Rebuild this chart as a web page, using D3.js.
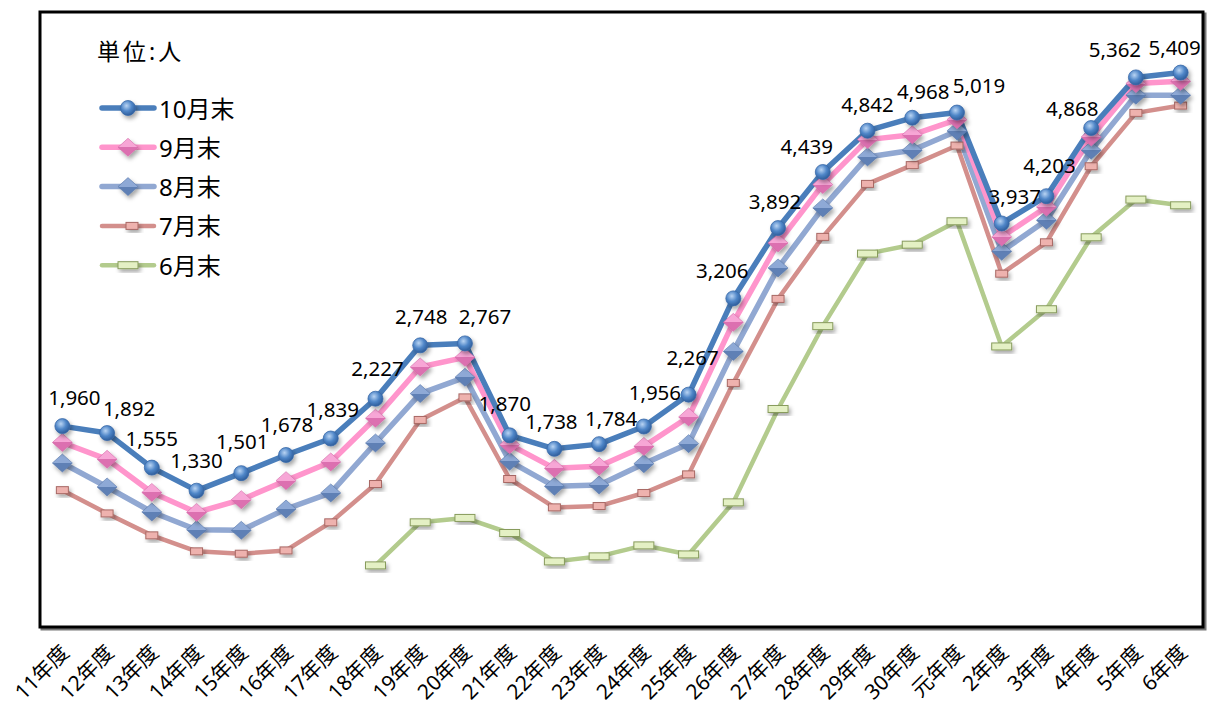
<!DOCTYPE html>
<html>
<head>
<meta charset="utf-8">
<script src="https://cdn.jsdelivr.net/npm/d3@7"></script>
<style>
  body { margin: 0; background: #fff; }
  svg { display: block; font-family: "Noto Sans", "Noto Sans CJK JP", sans-serif; }
</style>
</head>
<body>
<svg id="chart" width="1207" height="711"></svg>
<script>
// 年度ラベル
const years = ["11年度","12年度","13年度","14年度","15年度","16年度","17年度","18年度","19年度","20年度",
               "21年度","22年度","23年度","24年度","25年度","26年度","27年度","28年度","29年度","30年度",
               "元年度","2年度","3年度","4年度","5年度","6年度"];

const oct = [1960,1892,1555,1330,1501,1678,1839,2227,2748,2767,1870,1738,1784,1956,2267,3206,3892,4439,4842,4968,5019,3937,4203,4868,5362,5409];
const sep = [1800,1636,1313,1118,1242,1428,1610,2037,2537,2631,1779,1548,1568,1762,2049,2972,3747,4316,4755,4802,4950,3806,4098,4781,5302,5324];
const aug = [1600,1366,1122,949,943,1151,1308,1795,2277,2436,1616,1372,1385,1593,1789,2689,3503,4089,4586,4651,4840,3665,3968,4651,5188,5188];
const jul = [1335,1108,894,738,715,747,1021,1395,2020,2240,1444,1167,1180,1307,1489,2381,3201,3806,4323,4506,4697,3447,3753,4495,5016,5087];
const jun = [null,null,null,null,null,null,null,601,1021,1064,917,640,689,796,708,1216,2127,2935,3643,3730,3958,2737,3100,3802,4170,4114];

const seriesNames = ["10月末","9月末","8月末","7月末","6月末"];
const unitLabel = "単位:人";

// 10月末ラベルの手動位置調整 [dx, dy]（点からのずれ）
const labelNudge = [[12,-29],[22,-25],[0,-30],[0,-31],[1,-32],[1,-31],[2,-30],[2,-31],[1,-29],[20,-27],
                    [-5,-32],[-3,-28],[12,-26],[11,-35],[4,-38],[-11,-28],[-3,-27],[-16,-26],[0,-27],[11,-27],
                    [22,-28],[13,-27],[3,-31],[-19,-20],[-21,-28],[-6,-26]];

const svg = d3.select('#chart');
const plot = {left: 40, top: 12, right: 1203, bottom: 627};

const x = d3.scalePoint()
    .domain(years)
    .range([plot.left, plot.right])
    .padding(0.5);
const y = d3.scaleLinear()
    .domain([0, 6000])
    .range([plot.bottom, plot.top]);

const defs = svg.append('defs');
const shadow = defs.append('filter').attr('id', 'shadow')
    .attr('x', '-50%').attr('y', '-50%').attr('width', '200%').attr('height', '200%');
shadow.append('feDropShadow')
    .attr('dx', 2).attr('dy', 3).attr('stdDeviation', 2)
    .attr('flood-color', '#000').attr('flood-opacity', 0.35);

const ball = defs.append('radialGradient').attr('id', 'ball')
    .attr('cx', '40%').attr('cy', '35%').attr('r', '65%');
ball.append('stop').attr('offset', '0%').attr('stop-color', '#b9d4f3');
ball.append('stop').attr('offset', '55%').attr('stop-color', '#4f86c8');
ball.append('stop').attr('offset', '100%').attr('stop-color', '#2f5e9c');

function diamondGrad(id, light, dark) {
    const g = defs.append('linearGradient').attr('id', id)
        .attr('x1', 0).attr('y1', 0).attr('x2', 0).attr('y2', 1);
    g.append('stop').attr('offset', '0%').attr('stop-color', light);
    g.append('stop').attr('offset', '50%').attr('stop-color', light);
    g.append('stop').attr('offset', '50%').attr('stop-color', dark);
    g.append('stop').attr('offset', '100%').attr('stop-color', dark);
}
diamondGrad('pinkDia', '#f7a6d6', '#dc6fb0');
diamondGrad('blueDia', '#8ea9d6', '#5f80b5');

const series = [
    {name: seriesNames[4], values: jun, color: '#b3cb8d', width: 4.5, marker: 'wideRect'},
    {name: seriesNames[3], values: jul, color: '#d38f8c', width: 4.5, marker: 'smallRect'},
    {name: seriesNames[2], values: aug, color: '#91a8d2', width: 5.5, marker: 'blueDia'},
    {name: seriesNames[1], values: sep, color: '#ff95cc', width: 5.5, marker: 'pinkDia'},
    {name: seriesNames[0], values: oct, color: '#4a7ebb', width: 5.5, marker: 'ball'}
];

function drawMarker(sel, type) {
    if (type === 'ball') {
        sel.append('circle').attr('r', 7.5).attr('fill', 'url(#ball)')
            .attr('stroke', '#3a6aa8').attr('stroke-width', 0.8);
    } else if (type === 'pinkDia' || type === 'blueDia') {
        sel.append('path').attr('d', 'M0,-9L10,0L0,9L-10,0Z')
            .attr('fill', 'url(#' + type + ')')
            .attr('stroke', type === 'pinkDia' ? '#d46aa8' : '#5877aa').attr('stroke-width', 0.6);
    } else if (type === 'smallRect') {
        sel.append('rect').attr('x', -6).attr('y', -3.5).attr('width', 12).attr('height', 7)
            .attr('fill', '#eeb2ae').attr('stroke', '#a86864').attr('stroke-width', 1);
    } else {
        sel.append('rect').attr('x', -10).attr('y', -3.5).attr('width', 20).attr('height', 7)
            .attr('fill', '#e4f0c4').attr('stroke', '#879b5c').attr('stroke-width', 1);
    }
}

// プロット枠
svg.append('rect')
    .attr('x', plot.left + 2).attr('y', plot.top + 2)
    .attr('width', plot.right - plot.left).attr('height', plot.bottom - plot.top)
    .attr('fill', 'none').attr('stroke', '#777').attr('stroke-width', 3);
svg.append('rect')
    .attr('x', plot.left).attr('y', plot.top)
    .attr('width', plot.right - plot.left).attr('height', plot.bottom - plot.top)
    .attr('fill', '#fff').attr('stroke', '#000').attr('stroke-width', 3);

const line = d3.line()
    .defined(d => d != null)
    .x((d, i) => x(years[i]))
    .y(d => y(d));

series.forEach(s => {
    svg.append('path')
        .attr('d', line(s.values))
        .attr('fill', 'none')
        .attr('stroke', s.color)
        .attr('stroke-width', s.width)
        .attr('stroke-linejoin', 'round');
});

series.forEach(s => {
    const pts = s.values.map((v, i) => ({v: v, cat: years[i]})).filter(d => d.v != null);
    svg.append('g')
        .selectAll('g')
        .data(pts)
        .join('g')
        .attr('transform', d => `translate(${x(d.cat)},${y(d.v)})`)
        .attr('filter', 'url(#shadow)')
        .each(function() { drawMarker(d3.select(this), s.marker); });
});

// 10月末のデータラベル
svg.append('g')
    .selectAll('text')
    .data(oct)
    .join('text')
    .attr('x', (d, i) => x(years[i]) + labelNudge[i][0])
    .attr('y', (d, i) => y(d) + labelNudge[i][1])
    .attr('text-anchor', 'middle')
    .attr('dominant-baseline', 'central')
    .style('font-size', '20.5px')
    .style('fill', '#000')
    .text(d => d3.format(',')(d));

// x軸ラベル
svg.append('g')
    .selectAll('text')
    .data(years)
    .join('text')
    .attr('transform', d => `translate(${x(d) + 8},${plot.bottom + 27}) rotate(-45)`)
    .attr('text-anchor', 'end')
    .style('font-size', '21px')
    .style('fill', '#000')
    .text(d => d);

// 凡例
svg.append('text')
    .attr('x', 97).attr('y', 51)
    .attr('dominant-baseline', 'central')
    .style('font-size', '23px')
    .style('letter-spacing', '3px')
    .text(unitLabel);

const legend = svg.append('g')
    .selectAll('g')
    .data(series.slice().reverse())
    .join('g')
    .attr('transform', (d, i) => `translate(0,${108 + i * 39.3})`);
legend.append('line')
    .attr('x1', 102).attr('x2', 154)
    .attr('stroke', d => d.color)
    .attr('stroke-width', d => d.width)
    .attr('stroke-linecap', 'round');
legend.append('g')
    .attr('transform', d => `translate(${d.marker === 'smallRect' ? 132 : 128},0)`)
    .attr('filter', 'url(#shadow)')
    .each(function(d) { drawMarker(d3.select(this), d.marker); });
legend.append('text')
    .attr('x', 159)
    .attr('dominant-baseline', 'central')
    .style('font-size', '24px')
    .text(d => d.name);
</script>
</body>
</html>
